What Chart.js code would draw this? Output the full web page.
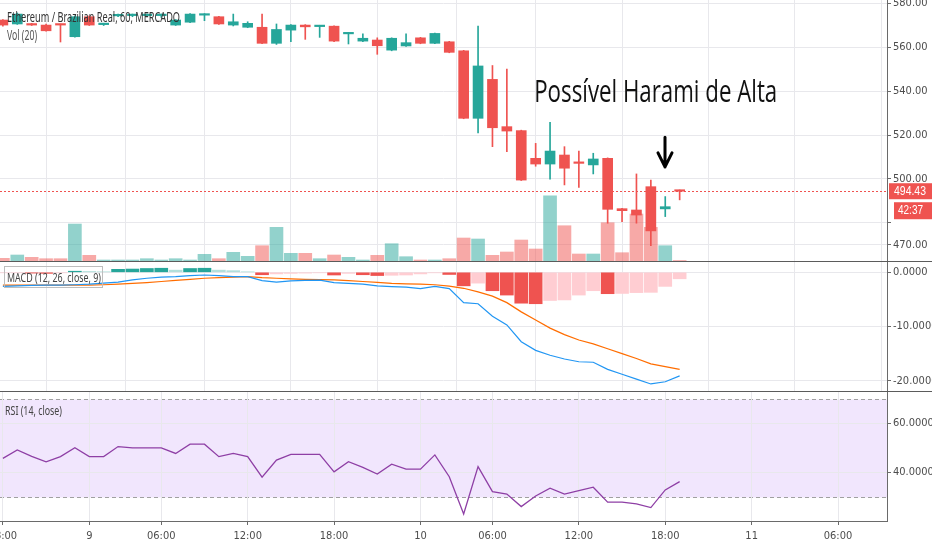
<!DOCTYPE html>
<html>
<head>
<meta charset="utf-8">
<title>ETH/BRL 60</title>
<script src="https://cdn.jsdelivr.net/npm/chart.js@4.4.1/dist/chart.umd.min.js"></script>
<style>
  html, body { margin: 0; padding: 0; background: #fff; }
  body { width: 932px; height: 550px; overflow: hidden; }
  .pane { position: relative; width: 932px; }
  #pricePane { height: 261px; }
  #macdPane { height: 129px; border-top: 1px solid #5b5b5b; }
  #rsiPane { height: 158px; border-top: 1px solid #5b5b5b; }
</style>
</head>
<body>
<div class="pane" id="pricePane"><canvas id="price_chart"></canvas></div>
<div class="pane" id="macdPane"><canvas id="macd_chart"></canvas></div>
<div class="pane" id="rsiPane"><canvas id="rsi_chart"></canvas></div>
<script>
// hourly bars, index 0 = day 8 18:00
const tickIndex = [0, 6, 11, 17, 23, 29, 34, 40, 46, 52, 58];
const tickLabels = ["18:00", "9", "06:00", "12:00", "18:00", "10", "06:00", "12:00", "18:00", "11", "06:00"];

const opens = [572.3, 570.5, 570.5, 570, 570.5, 564.7, 573.8, 570.2, 574.2, 574.3, 574.3, 574.3, 570, 571.3, 574.5, 573.8, 570, 569, 569, 561.7, 567.7, 570, 569.3, 569.5, 566, 562.7, 563.2, 558.6, 560.5, 564.2, 561.7, 562.4, 558.3, 527.6, 545.3, 523.8, 522, 509.4, 506.8, 510.9, 507.3, 506.4, 509.4, 486.5, 485.9, 496.5, 486.4, 494.8];
const highs = [572.5, 575.5, 570.8, 570.5, 570.5, 574.2, 574.2, 570.8, 575, 575, 575, 575, 572.5, 575.2, 575.2, 574, 575, 571.5, 575, 570.5, 570.2, 570.2, 569.9, 569.7, 566.7, 566, 564.2, 564.2, 566, 564.4, 566.4, 562.6, 558.5, 569.5, 551.6, 550, 522.2, 516.2, 525.8, 514.7, 512.7, 511.7, 509.6, 486.7, 502.3, 499.5, 492, 495];
const lows = [569.5, 570.3, 569.8, 567.2, 562.3, 564.5, 569.8, 569.8, 573.8, 573.8, 573.8, 573.5, 569.8, 571.1, 572, 570.3, 569.6, 568.8, 561.5, 561.2, 562.4, 563.5, 564.4, 562.5, 561.4, 562.5, 556.7, 558.3, 560.3, 561.5, 561.5, 557.4, 527.4, 521, 514.7, 512.4, 499.3, 505.8, 499.9, 497.3, 496.2, 502.3, 479.9, 480.6, 479.9, 469.7, 482.9, 490.5];
const closes = [570, 575, 570, 567.4, 570, 573.8, 570, 570.5, 574.6, 574.6, 574.7, 574.6, 572.3, 575, 575, 570.5, 571.5, 570.8, 561.7, 568, 570, 569.2, 569.7, 562.7, 566.5, 564, 560.6, 564, 562, 561.7, 566.2, 557.6, 527.6, 551.4, 523.3, 521.8, 499.5, 506.8, 512.7, 504.9, 507.1, 509.1, 486.2, 485.6, 483.6, 476.4, 487.4, 494.43];
const volumes = [2.7, 6, 3.7, 2.3, 2.3, 37, 5.7, 1, 1, 1, 2.3, 1, 2.3, 1, 6.7, 2.3, 8.7, 4.7, 15.3, 33.7, 7.7, 7.7, 2.3, 6, 3.7, 1, 5.7, 17.3, 4.3, 1, 1, 2.3, 23, 22, 5.7, 9, 21, 12, 65.3, 35.3, 7, 7, 38.3, 8.3, 47, 33.7, 15.3, 0.5];

const macdLine = [-2.6, -2.5, -2.4, -2.35, -2.35, -2.3, -2.2, -2.0, -1.8, -1.4, -1.1, -0.9, -0.8, -0.6, -0.5, -0.6, -0.8, -0.8, -1.55, -1.8, -1.6, -1.5, -1.45, -1.9, -2.05, -2.2, -2.5, -2.65, -2.75, -3.0, -2.6, -3.0, -5.6, -5.8, -8.1, -9.7, -12.8, -14.4, -15.3, -16.0, -16.5, -16.6, -17.9, -18.8, -19.7, -20.6, -20.2, -19.1];
const signalLine = [-2.35, -2.35, -2.35, -2.35, -2.35, -2.35, -2.35, -2.3, -2.2, -2.05, -1.9, -1.7, -1.5, -1.3, -1.1, -1.0, -0.9, -0.8, -1.0, -1.1, -1.2, -1.3, -1.35, -1.4, -1.55, -1.7, -1.85, -2.05, -2.15, -2.2, -2.3, -2.55, -2.95, -3.6, -4.4, -5.6, -7.3, -8.8, -10.3, -11.5, -12.5, -13.2, -14.1, -15.0, -15.9, -16.9, -17.4, -17.9];
const macdHist = [-0.1, -0.1, -0.15, -0.2, -0.1, 0.2, 0.15, 0.1, 0.55, 0.6, 0.7, 0.75, 0.4, 0.7, 0.75, 0.4, 0.3, 0.1, -0.45, -0.3, -0.2, -0.15, -0.1, -0.5, -0.2, -0.45, -0.6, -0.55, -0.5, -0.3, -0.1, -0.4, -2.5, -2.0, -3.4, -4.2, -5.7, -5.8, -5.2, -5.1, -4.2, -3.4, -3.95, -3.9, -3.75, -3.7, -2.6, -1.2];
const rsi = [45.7, 49.1, 46.5, 44.3, 46.4, 50.0, 46.4, 46.4, 50.5, 50.0, 50.0, 50.0, 47.7, 51.5, 51.5, 46.4, 47.7, 46.4, 38.0, 45.0, 47.3, 47.3, 47.3, 40.2, 44.3, 42.0, 39.3, 43.3, 41.3, 41.3, 47.1, 38.2, 23.0, 42.3, 32.1, 31.1, 26.0, 30.3, 33.5, 31.1, 32.5, 33.9, 27.8, 27.8, 27.1, 25.6, 32.8, 36.2];

const priceTicks = [470, 480, 500, 520, 540, 560, 580];
const hiddenPriceLabels = [480]; // sits under the countdown tag
const macdTicks = [0, -10, -20];
const rsiTicks = [40, 60];
const rsiBands = [30, 70];

const symbolTitle = "Ethereum / Brazilian Real, 60, MERCADO";
const noteText = "Possível Harami de Alta";
const countdown = "42:37";
const lastPrice = closes[closes.length - 1];

const TEAL = "#26a69a";
const RED = "#ef5350";
const GRID = "#e8e8ec";
const AXIS = "#6a6a6a";
const LABEL = "#4d4d4d";
const TICK_FONT = { family: "'Liberation Sans Narrow', 'DejaVu Sans Condensed', 'Liberation Sans', sans-serif", size: 11 };

Chart.defaults.animation = false;
Chart.defaults.maintainAspectRatio = false;
Chart.defaults.plugins.legend.display = false;
Chart.defaults.plugins.tooltip.enabled = false;

const idx = closes.map((_, i) => i);
const isUp = closes.map((c, i) => c >= opens[i]);

// text squeezed to the width it has in the screenshot
function drawText(ctx, text, x, y, font, color, width) {
  ctx.save();
  ctx.font = font;
  ctx.fillStyle = color;
  ctx.textBaseline = "middle";
  const sx = width ? width / ctx.measureText(text).width : 1;
  ctx.translate(x, y);
  ctx.scale(sx, 1);
  ctx.fillText(text, 0, 0);
  ctx.restore();
}

function xScale(showLabels) {
  return {
    type: "linear",
    min: -0.2,
    max: 61.4,
    offset: false,
    grid: { color: GRID, drawTicks: showLabels, tickLength: 4, tickColor: AXIS },
    border: { display: showLabels, color: AXIS },
    afterBuildTicks: (s) => { s.ticks = tickIndex.map((v) => ({ value: v })); },
    ticks: {
      display: showLabels, autoSkip: false, maxRotation: 0, padding: 5,
      color: LABEL, font: TICK_FONT,
      callback: (v, i) => tickLabels[i],
    },
    afterFit: (s) => { s.height = showLabels ? 29 : 0; s.paddingLeft = 0; s.paddingRight = 0; },
  };
}

function yScale(min, max, ticks, digits, hidden = []) {
  return {
    position: "right",
    min: min,
    max: max,
    grid: { color: GRID, tickLength: 4, tickColor: AXIS },
    border: { color: AXIS },
    afterBuildTicks: (s) => { s.ticks = ticks.map((v) => ({ value: v })); },
    ticks: {
      color: LABEL, padding: 2, font: TICK_FONT,
      callback: (v) => (hidden.includes(v) ? "" : Number(v).toFixed(digits)),
    },
    afterFit: (s) => { s.width = 45; s.paddingTop = 0; s.paddingBottom = 0; },
  };
}

const layout = { padding: 0, autoPadding: false };

// price pane overlays: last price line, tags, legend, note
const priceOverlay = {
  id: "priceOverlay",
  beforeDatasetsDraw(chart) {
    const { ctx, chartArea, scales } = chart;
    const y = Math.round(scales.y.getPixelForValue(lastPrice)) + 0.5;
    ctx.save();
    ctx.strokeStyle = RED;
    ctx.lineWidth = 1;
    ctx.setLineDash([2, 2]);
    ctx.beginPath();
    ctx.moveTo(chartArea.left, y);
    ctx.lineTo(chartArea.right, y);
    ctx.stroke();
    ctx.restore();
  },
  afterDraw(chart) {
    const { ctx, chartArea, scales, width } = chart;
    const y = scales.y.getPixelForValue(lastPrice);
    ctx.save();
    ctx.fillStyle = RED;
    ctx.fillRect(chartArea.right + 2, y - 8, width - chartArea.right - 2, 16);
    ctx.fillRect(chartArea.right + 7, y + 11, width - chartArea.right - 7, 17);
    ctx.restore();
    drawText(ctx, lastPrice.toFixed(2), chartArea.right + 7, y, "12px 'Liberation Sans'", "#fff", 32);
    drawText(ctx, countdown, chartArea.right + 11, y + 19.5, "12px 'Liberation Sans'", "#fff", 25);

    drawText(ctx, symbolTitle, 7, 18, "14px 'Noto Sans'", "#333", 173);
    drawText(ctx, "Vol (20)", 7, 36, "14px 'Noto Sans'", "#555", 30);

    // annotation
    const nx = scales.x.getPixelForValue(36.9);
    const ny = scales.y.getPixelForValue(539);
    drawText(ctx, noteText, nx, ny, "31px 'Open Sans'", "#111", 243);

    const ax = Math.round(scales.x.getPixelForValue(46));
    const top = scales.y.getPixelForValue(519);
    const tip = scales.y.getPixelForValue(505.5);
    ctx.save();
    ctx.strokeStyle = "#000";
    ctx.lineWidth = 3;
    ctx.lineCap = "round";
    ctx.lineJoin = "round";
    ctx.beginPath();
    ctx.moveTo(ax, top);
    ctx.lineTo(ax, tip);
    ctx.moveTo(ax - 7, tip - 14);
    ctx.lineTo(ax, tip);
    ctx.lineTo(ax + 7, tip - 14);
    ctx.stroke();
    ctx.restore();
  },
};

new Chart(document.getElementById("price_chart"), {
  type: "bar",
  data: {
    datasets: [
      {
        label: "Body",
        data: idx.map((i) => ({ x: i, y: [opens[i], closes[i]] })),
        backgroundColor: isUp.map((u) => (u ? TEAL : RED)),
        barThickness: 10,
        minBarLength: 1.5,
        grouped: false,
        order: 0,
      },
      {
        label: "Wick",
        data: idx.map((i) => ({ x: i, y: [lows[i], highs[i]] })),
        backgroundColor: isUp.map((u) => (u ? TEAL : RED)),
        barThickness: 1,
        grouped: false,
        order: 1,
      },
      {
        label: "Vol",
        data: idx.map((i) => ({ x: i, y: volumes[i] })),
        backgroundColor: isUp.map((u) => (u ? "rgba(38,166,154,0.5)" : "rgba(239,83,80,0.5)")),
        barThickness: 13,
        grouped: false,
        yAxisID: "vol",
        order: 2,
      },
    ],
  },
  options: {
    layout: layout,
    scales: {
      x: xScale(false),
      y: yScale(462.7, 581.4, priceTicks, 2, hiddenPriceLabels),
      vol: { axis: "y", display: false, position: "right", min: 0, max: Math.max(...volumes) * 4 },
    },
  },
  plugins: [priceOverlay],
});

const histColors = macdHist.map((v, i) => {
  const prev = i > 0 ? macdHist[i - 1] : v;
  if (v >= 0) return v > prev ? "#26a69a" : "#b2dfdb";
  return v < prev ? "#ef5350" : "#ffcdd2";
});

new Chart(document.getElementById("macd_chart"), {
  type: "bar",
  data: {
    datasets: [
      {
        type: "line",
        label: "MACD",
        data: idx.map((i) => ({ x: i, y: macdLine[i] })),
        borderColor: "#2196f3",
        borderWidth: 1.2,
        pointRadius: 0,
        order: 0,
      },
      {
        type: "line",
        label: "Signal",
        data: idx.map((i) => ({ x: i, y: signalLine[i] })),
        borderColor: "#ff6d00",
        borderWidth: 1.2,
        pointRadius: 0,
        order: 1,
      },
      {
        label: "Histogram",
        data: idx.map((i) => ({ x: i, y: macdHist[i] })),
        backgroundColor: histColors,
        barThickness: 13,
        grouped: false,
        order: 2,
      },
    ],
  },
  options: {
    layout: layout,
    scales: {
      x: xScale(false),
      y: yScale(-21.9, 1.9, macdTicks, 4),
    },
  },
  plugins: [{
    id: "macdLegend",
    afterDraw(chart) {
      const ctx = chart.ctx;
      ctx.save();
      ctx.strokeStyle = "#bdbdbd";
      ctx.strokeRect(4.5, 4.5, 98, 21);
      ctx.restore();
      drawText(ctx, "MACD (12, 26, close, 9)", 7, 16.5, "13px 'Noto Sans'", "#444", 94);
    },
  }],
});

new Chart(document.getElementById("rsi_chart"), {
  type: "line",
  data: {
    datasets: [
      {
        label: "RSI",
        data: idx.map((i) => ({ x: i, y: rsi[i] })),
        borderColor: "#8e3fa5",
        borderWidth: 1.3,
        pointRadius: 0,
      },
    ],
  },
  options: {
    layout: layout,
    scales: {
      x: xScale(true),
      y: yScale(20.1, 72.8, rsiTicks, 4),
    },
  },
  plugins: [{
    id: "rsiBand",
    beforeDraw(chart) {
      const { ctx, chartArea, scales } = chart;
      const lo = Math.round(scales.y.getPixelForValue(rsiBands[0])) + 0.5;
      const hi = Math.round(scales.y.getPixelForValue(rsiBands[1])) + 0.5;
      ctx.save();
      ctx.fillStyle = "#f1e6fd";
      ctx.fillRect(chartArea.left, hi, chartArea.right - chartArea.left, lo - hi);
      ctx.strokeStyle = "#a0a0a0";
      ctx.setLineDash([4, 3]);
      ctx.beginPath();
      ctx.moveTo(chartArea.left, hi);
      ctx.lineTo(chartArea.right, hi);
      ctx.moveTo(chartArea.left, lo);
      ctx.lineTo(chartArea.right, lo);
      ctx.stroke();
      ctx.restore();
    },
    afterDraw(chart) {
      drawText(chart.ctx, "RSI (14, close)", 5, 20, "12px 'Noto Sans'", "#444", 57);
    },
  }],
});
</script>
</body>
</html>
